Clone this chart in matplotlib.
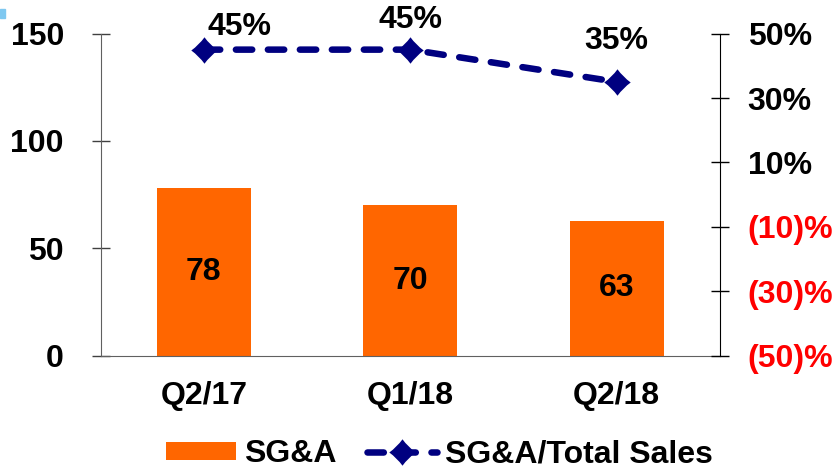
import matplotlib.pyplot as plt
from matplotlib.path import Path
from matplotlib.patches import Rectangle

plt.rcParams['font.family'] = ['Liberation Sans', 'DejaVu Sans']
plt.rcParams['font.weight'] = 'bold'

quarters = ["Q2/17", "Q1/18", "Q2/18"]
sga = [78, 70, 63]               # SG&A, left axis
sga_ratio = [45, 45, 35]         # SG&A / Total Sales, %, right axis
left_ticks = [0, 50, 100, 150]
right_ticks = [-50, -30, -10, 10, 30, 50]

orange = "#FF6600"
navy = "#000080"
fs = 23

# concave diamond marker like the one in the source
k = 0.42
verts = [(0, 1), (k, k), (1, 0), (k, -k), (0, -1),
         (-k, -k), (-1, 0), (-k, k), (0, 1)]
codes = [Path.MOVETO] + [Path.CURVE3] * 8
diamond = Path(verts, codes)

fig = plt.figure(figsize=(8.37, 4.70), dpi=100)
ax = fig.add_axes([0.1203, 0.2426, 0.7399, 0.6861])
ax2 = ax.twinx()

x = range(len(quarters))
bars = ax.bar(x, sga, width=0.455, color=orange, label="SG&A", zorder=2)
for i, v in enumerate(sga):
    ax.text(i, v / 2, str(v), ha="center", va="center", fontsize=fs,
            fontweight="bold", color="black")

ax.set_xlim(-0.5, 2.5)
ax.set_ylim(0, 150)
ax.set_yticks(left_ticks)
ax.set_xticks(list(x))
ax.set_xticklabels(quarters, fontsize=fs, fontweight="bold")
ax.tick_params(axis="x", length=0, pad=18)
ax.tick_params(axis="y", direction="inout", length=13, width=1,
               color="#404040", labelsize=fs, pad=20)
for t in ax.get_yticklabels():
    t.set_fontweight("bold")
ax.spines["top"].set_visible(False)
ax.spines["right"].set_visible(False)
ax.spines["left"].set_color("#606060")
ax.spines["bottom"].set_color("#606060")

line, = ax2.plot(x, sga_ratio, color=navy, lw=4.7,
                 linestyle=(0, (2.5, 2.4)), dash_capstyle="round",
                 marker=diamond, markersize=19, markeredgewidth=0,
                 markerfacecolor=navy, label="SG&A/Total Sales", zorder=3)

offsets = [(36, 23), (0, 30), (0, 41)]
for i, v in enumerate(sga_ratio):
    ax2.annotate(f"{v}%", (i, v), xytext=offsets[i], textcoords="offset pixels",
                 ha="center", va="center", fontsize=fs, fontweight="bold")

ax2.set_ylim(-50, 50)
ax2.set_yticks(right_ticks)
ax2.set_yticklabels([f"{t}%" if t > 0 else f"({-t})%" for t in right_ticks])
for t, v in zip(ax2.get_yticklabels(), right_ticks):
    t.set_color("black" if v > 0 else "red")
    t.set_fontweight("bold")
ax2.tick_params(axis="y", direction="inout", length=13, width=1,
                color="black", labelsize=fs, pad=13.5)
for s in ["top", "left", "bottom"]:
    ax2.spines[s].set_visible(False)
ax2.spines["right"].set_color("black")

fig.legend([bars, line], ["SG&A", "SG&A/Total Sales"], loc="center",
           bbox_to_anchor=(0.525, 0.034), ncol=2, frameon=False,
           handlelength=2.2, handleheight=0.5, handletextpad=0.25,
           columnspacing=0.94, prop={"weight": "bold", "size": fs})

fig.patches.append(Rectangle((0, 0.962), 0.006, 0.019, transform=fig.transFigure,
                             color="#7FC8F0", figure=fig))

fig.savefig("out.png", dpi=100)
